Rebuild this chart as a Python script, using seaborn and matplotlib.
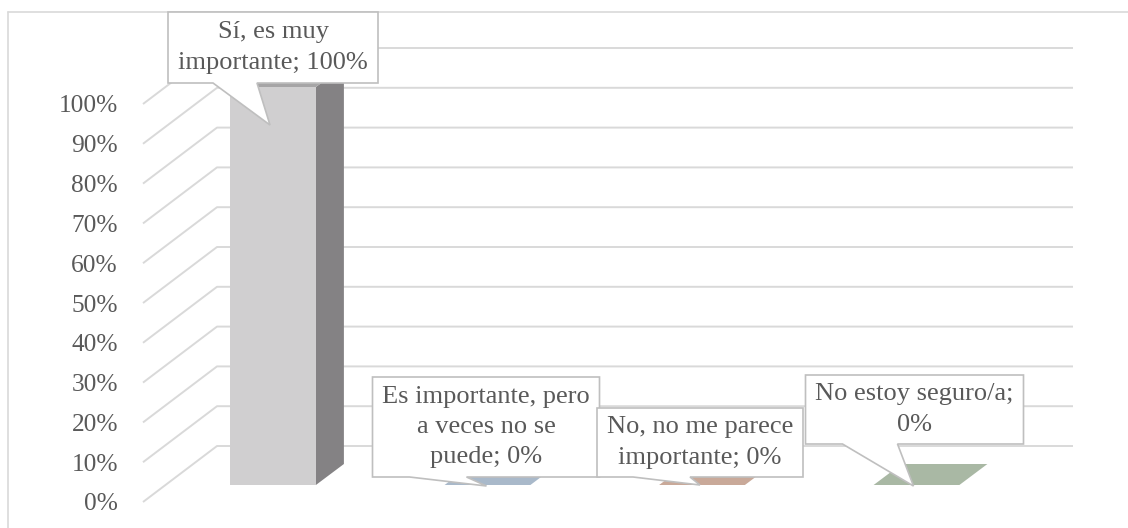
import textwrap
import numpy as np
import pandas as pd
import seaborn as sns
import matplotlib
matplotlib.use("Agg")
import matplotlib.pyplot as plt
from matplotlib.patches import Polygon
from matplotlib.lines import Line2D
from matplotlib.transforms import IdentityTransform

# ---------------- data ----------------
categories = [
    "Sí, es muy importante",
    "Es importante, pero a veces no se puede",
    "No, no me parece importante",
    "No estoy seguro/a",
]
values = [100, 0, 0, 0]
y_ticks = list(range(0, 101, 10))
tick_labels = [f"{t}%" for t in y_ticks]

# ---------------- style ----------------
front_colors = ["#D0CFD0", "#A9B9CA", "#C9A999", "#A9B8A4"]
top_colors = ["#A6A5A6", "#A9B9CA", "#C9A999", "#A9B8A4"]
side_colors = ["#848284", "#8393A4", "#A08273", "#84937F"]
wrap_widths = [16, 19, 16, 18]
TEXT_COLOR = "#595959"
GRID_COLOR = "#D9D9D9"
BOX_EDGE = "#BFBFBF"
TICK_SIZE = 18.3
LABEL_SIZE = 19

sns.set_style("white")
plt.rcParams["font.family"] = ["Liberation Serif", "DejaVu Serif"]

W, H = 1128, 528
fig = plt.figure(figsize=(W / 100, H / 100), dpi=100)

# layout (pixels, measured from top-left)
AX_L, AX_R, AX_T, AX_B = 143, 1073, 40, 510
X0_PX, STEP_PX = 273, 214.5          # first category centre, category spacing
Y0_PX, PX_PER_PCT = 485, 3.98        # bar base line, pixels per percent
ax = fig.add_axes([AX_L / W, 1 - AX_B / H, (AX_R - AX_L) / W, (AX_B - AX_T) / H])

xlim = ((AX_L - X0_PX) / STEP_PX, (AX_R - X0_PX) / STEP_PX)
ylim = ((Y0_PX - AX_B) / PX_PER_PCT, (Y0_PX - AX_T) / PX_PER_PCT)

# 3-D depth parameters
BAR_DX = 28 / STEP_PX
BAR_DY = 21 / PX_PER_PCT
WALL_DX = 74 / STEP_PX
FLOOR_FRONT = -(502 - Y0_PX) / PX_PER_PCT
WALL_BACK = (Y0_PX - 446) / PX_PER_PCT

df = pd.DataFrame({"cat": categories, "val": values})
sns.barplot(data=df, x="cat", y="val", hue="cat", palette=front_colors,
            saturation=1, width=0.4, linewidth=0, legend=False, ax=ax,
            zorder=2)

ax.set_xlim(xlim)
ax.set_ylim(ylim)
ax.set_xticks([])
ax.set_xlabel("")
ax.set_ylabel("")
for s in ax.spines.values():
    s.set_visible(False)
ax.patch.set_alpha(0)

# gridlines: side wall (oblique) + back wall (horizontal)
for t in y_ticks:
    ax.plot([xlim[0], xlim[0] + WALL_DX, xlim[1]],
            [t + FLOOR_FRONT, t + WALL_BACK, t + WALL_BACK],
            color=GRID_COLOR, lw=1.4, zorder=0.5, clip_on=False,
            solid_capstyle="butt")

ax.set_yticks([t + FLOOR_FRONT for t in y_ticks], tick_labels)
ax.tick_params(axis="y", length=0, pad=18, labelsize=TICK_SIZE,
               labelcolor=TEXT_COLOR)

# 3-D faces of the bars
bars = [p for p in ax.patches]
for i, p in enumerate(bars):
    x, w, h = p.get_x(), p.get_width(), p.get_height()
    side = Polygon([(x + w, 0), (x + w + BAR_DX, BAR_DY),
                    (x + w + BAR_DX, h + BAR_DY), (x + w, h)],
                   closed=True, facecolor=side_colors[i], edgecolor="none",
                   zorder=1.9)
    top = Polygon([(x, h), (x + w, h), (x + w + BAR_DX, h + BAR_DY),
                   (x + BAR_DX, h + BAR_DY)],
                  closed=True, facecolor=top_colors[i], edgecolor="none",
                  zorder=2.1)
    if h > 0:
        ax.add_patch(side)
    ax.add_patch(top)

# callout geometry relative to bar anchor (px, y downward)
callouts = [
    dict(box=(-105, -75, 105, -4), base=(-60, -16), tip=(-3, 38)),
    dict(box=(-115, -108, 112, -8), base=(-78, -21), tip=(-1, 1)),
    dict(box=(-105, -77, 101, -8), base=(-69, -12), tip=(-2, 0)),
    dict(box=(-111, -110, 107, -41), base=(-74, -19), tip=(-3, 1)),
]

fig.canvas.draw()
for i, p in enumerate(bars):
    ax_x, ax_y = ax.transData.transform((p.get_x() + p.get_width() / 2,
                                         p.get_height()))
    axp, ayp = ax_x, H - ax_y   # anchor in top-based pixels
    c = callouts[i]
    L, T, R, B = c["box"]
    bl, br = c["base"]
    tx, ty = c["tip"]
    pts = [(L, T), (R, T), (R, B), (br, B), (tx, ty), (bl, B), (L, B)]
    pts = [(axp + a, H - (ayp + b)) for a, b in pts]
    poly = Polygon(pts, closed=True, facecolor="white", edgecolor=BOX_EDGE,
                   lw=1.2, transform=IdentityTransform(), zorder=5)
    fig.add_artist(poly)
    label = textwrap.fill(f"{categories[i]}; {values[i]:.0f}%", wrap_widths[i])
    cx = axp + (L + R) / 2
    cy = ayp + (T + B) / 2
    fig.text(cx / W, 1 - cy / H, label, ha="center", va="center",
             multialignment="center", fontsize=LABEL_SIZE, color=TEXT_COLOR,
             linespacing=1.48, zorder=6)

# chart frame (top & left visible)
fig.add_artist(Line2D([8, 8], [0, H - 12], color=GRID_COLOR, lw=1.2,
                      transform=IdentityTransform()))
fig.add_artist(Line2D([8, W], [H - 12, H - 12], color=GRID_COLOR, lw=1.2,
                      transform=IdentityTransform()))

fig.savefig("out.png", dpi=100, facecolor="white")
